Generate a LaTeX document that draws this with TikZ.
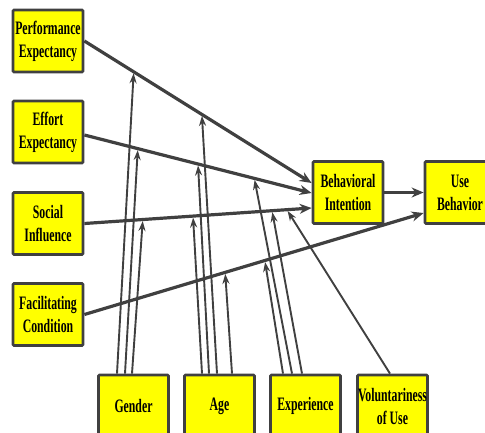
\documentclass[tikz,border=0pt]{standalone}
\usepackage{fontspec}
\newfontfamily\boxfont{Liberation Serif}[FakeStretch=0.62]
\usetikzlibrary{arrows.meta,calc}
\definecolor{linec}{RGB}{64,64,64}
\definecolor{boxfill}{RGB}{255,255,0}
\begin{document}
\begin{tikzpicture}[x=1pt,y=-1pt,
  box/.style={draw=linec,fill=boxfill,line width=2.8pt,rounded corners=1pt,
    minimum width=70pt,minimum height=62pt,inner sep=0pt,align=center,
    font=\boxfont\bfseries\fontsize{19}{23}\selectfont},
  mainarrow/.style={draw=linec,line width=3.2pt,-{Stealth[length=12pt,width=10pt]}},
  modarrow/.style={draw=linec,line width=1.9pt,-{Stealth[length=10pt,width=7pt]},shorten >=1.5pt}]
\useasboundingbox (0,0) rectangle (485,432);
\begin{scope}
\clip (0,0) rectangle (485,432);

% constructs
\node[box] (pe) at (48,41) {Performance\\Expectancy};
\node[box] (ee) at (48,132) {Effort\\Expectancy};
\node[box] (si) at (48,223.5) {Social\\Influence};
\node[box] (fc) at (48,314.5) {Facilitating\\Condition};
\node[box] (bi) at (348,192.5) {Behavioral\\Intention};
\node[box] (ub) at (460,192.5) {Use\\Behavior};

% moderators
\node[box] (gen) at (133.5,406) {Gender};
\node[box] (age) at (219.5,406) {Age};
\node[box] (exp) at (305.5,406) {Experience};
\node[box] (vol) at (392.5,406) {Voluntariness\\of Use};

% main paths, with points where the moderators act
\draw[mainarrow] (pe.east) -- ($(bi.west)+(0,-9.5)$)
  coordinate[pos=0.217] (peG) coordinate[pos=0.517] (peA);
\draw[mainarrow] ($(ee.east)+(0,3)$) -- ($(bi.west)+(0,0.5)$)
  coordinate[pos=0.235] (eeG) coordinate[pos=0.5] (eeA) coordinate[pos=0.748] (eeE);
\draw[mainarrow] (si.east) -- ($(bi.west)+(0,15.5)$)
  coordinate[pos=0.257] (siG) coordinate[pos=0.478] (siA)
  coordinate[pos=0.826] (siE) coordinate[pos=0.891] (siV);
\draw[mainarrow] (fc.east) -- ($(ub.west)+(0,20.5)$)
  coordinate[pos=0.415] (fcA) coordinate[pos=0.532] (fcE);
\draw[mainarrow] (bi.east) -- (ub.west);

% gender
\draw[modarrow] ($(gen.north)+(-16.5,0)$) -- (peG);
\draw[modarrow] ($(gen.north)+(-8.5,0)$) -- (eeG);
\draw[modarrow] ($(gen.north)+(-1.5,0)$) -- (siG);
% age
\draw[modarrow] ($(age.north)+(-17.5,0)$) -- (siA);
\draw[modarrow] ($(age.north)+(-10.5,0)$) -- (eeA);
\draw[modarrow] ($(age.north)+(-2.5,0)$) -- (peA);
\draw[modarrow] ($(age.north)+(12.5,0)$) -- (fcA);
% experience
\draw[modarrow] ($(exp.north)+(-22.5,0)$) -- (fcE);
\draw[modarrow] ($(exp.north)+(-13.5,0)$) -- (eeE);
\draw[modarrow] ($(exp.north)+(-3.5,0)$) -- (siE);
% voluntariness
\draw[modarrow] ($(vol.north)+(-2.5,0)$) -- (siV);
\end{scope}
\end{tikzpicture}
\end{document}
